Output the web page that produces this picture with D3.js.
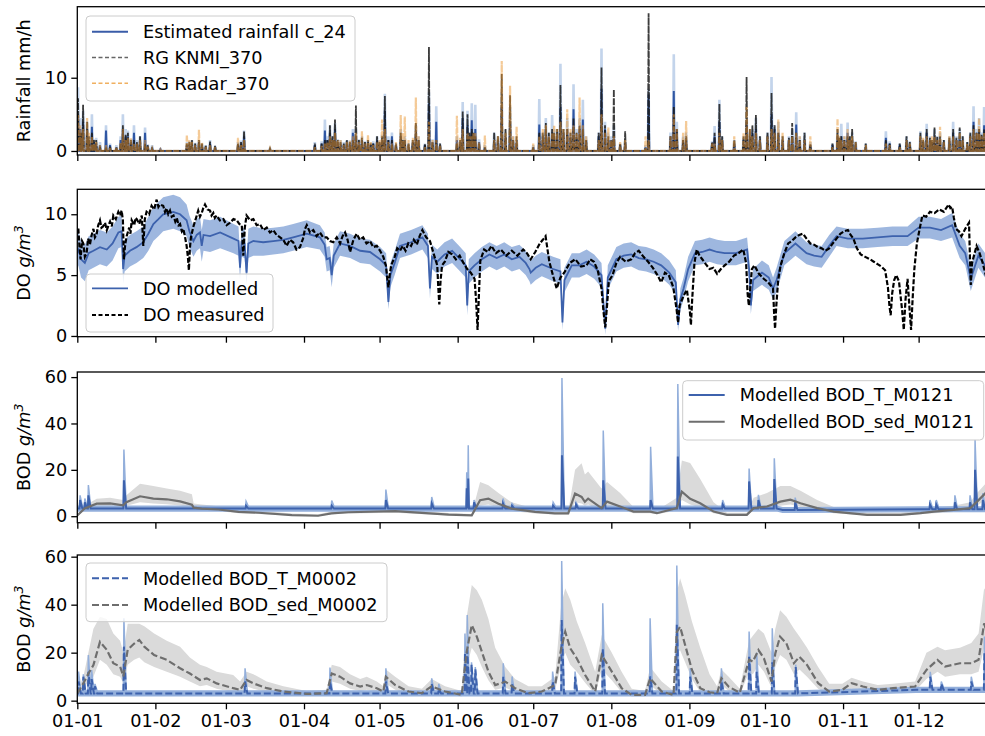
<!DOCTYPE html>
<html>
<head>
<meta charset="utf-8">
<script src="https://cdn.jsdelivr.net/npm/d3@7"></script>
<style>
body { margin: 0; background: #fff; }
text { font-family: "DejaVu Sans", sans-serif; font-size: 17.7px; fill: #000; }
</style>
</head>
<body>
<script>
// ---- data (day of year 2019, value) ----

// panel 1: rainfall events (main showers)
var rainDay   = [0.3,1.2,2.3,3.9,5.8,7.5,11.4,17.2,18.1,19.2,20.1,22.5,24.9,26.9,29.7,33,43.5,45.5,48.3,52.7,54.7,63.8,66.2,76.5,94.3,98.3,100.3,102.3,104.5,107,109.4,110.6,113,115.4,117.5,119,121,122.1,124.9,128.4,130,134.4,138,139.6,142.5,150.7,153,154.9,156.6,158,161.8,165.5,168.5,171.8,174.4,181,183.4,186,188.5,189.3,191.8,194.5,197,199.4,200.7,208.1,210.8,213,217.5,225.6,226.8,236.8,241.7,253,254.9,260.8,265.7,269.4,275.6,278.3,283.8,285.4,288.7,291,299.8,301.8,303.3,305.8,307.6,313,321,326.5,329.2,334.7,337.2,340.3,342.5,347.7,350.3,353.3,355.8,358,360,362.5];
var rainEst   = [5,3,4,3,3.3,1,2.8,1.5,3,2,2,2.5,1.5,2.5,0.5,0.2,0.8,1,1.2,1,0.5,0.8,2,0.2,0.8,2.8,2.5,3,1,1,2.5,2,1.5,1,1,1.5,1.5,5.5,2,2,1.5,2.5,0.8,6.5,4,1.5,4.5,3.5,4.2,3,0.5,1.5,6,4,1,0.5,3.6,3,2.5,2,6,3,5.7,3,4.3,8.5,1.5,2,1,0.5,7.7,8.2,1.5,2,4,1,4,3,5,2.5,2,3.6,1.5,0.8,0.8,2,2,2.5,1.5,0.5,1.8,0.8,1.5,1.8,2.5,2,1.5,2.5,2,0.8,4,3,3.5,2];
var rainEstHi = [8.7,4.5,5.5,4,5,1.8,3.5,2,5,3,2.8,3.5,2,3.2,0.8,0.4,1.2,1.5,1.5,1.5,0.7,1.2,2.8,0.4,1.2,4.3,3.5,3.8,1.5,1.5,3,3,2,1.5,1.3,2,2.2,7.8,2.5,3,2,3.5,1,8,6.1,2,6.7,5.5,6.5,6.3,0.8,2.5,8,6,1.5,0.8,7.1,4.5,4.9,3,11.9,4.5,9.1,4.5,7,14,2.5,3.5,1.5,0.8,8.5,13.2,2.5,3.4,7,1.5,5.5,4.5,10.1,4,3,5.3,2.5,1.2,1,3,3.7,3.9,2.5,1,2.7,1,2,2.7,3.7,3,2.5,4,3,1.2,6.1,4.5,6,3];
var rainKnmi  = [7.2,2.5,6.3,4,2.5,1.5,0.5,1,3.5,2.2,2.5,1.5,2,1,0.3,0,1,1.5,1.5,1.3,0.7,1,2.7,0.3,1,1.5,3.5,4.3,1.2,1.5,1.5,6.2,1.8,1.5,1,2,2,7.5,1.5,2.5,1.5,3.8,1,14.2,1.5,1,5.4,5,3,2,0.5,2.5,10.5,7.6,2,0.5,2.5,3.8,3,2.5,9,3,4.5,3.5,3,11.4,2,8.4,2.7,0.5,18.8,6,2,2.5,6.4,1.5,10.1,4.9,7.9,2.5,3.8,2.5,2.5,1,1,3,2,2,3,1,1.5,1,2,2.5,3,3.2,2,3,3.2,1.2,3.5,3,3,2.5];
var rainRadar = [5,3.5,3,4.5,2,1.2,0.8,1.2,3,1.5,1.8,1,1.5,1.5,0.3,0.2,2.2,1.2,2.9,0.8,0.5,1.8,1.5,0.3,0.5,1,2,2.5,1.5,1.2,2,2.5,2.7,2.2,0.8,1.2,4.3,3,1,4.9,4.7,7.3,0.5,4,1.5,4.8,3,2.5,2,2.5,2.1,1.5,12.3,8.9,3.3,1,2,3.5,2.5,3.5,4,5.7,3.5,7.3,3.5,5,3.2,2,1.5,2,1.5,5,4.1,1,2.5,2,6,2.5,3,4.3,2,2.5,1.5,2,0.5,4.4,1.5,3,2,0.8,1,0.5,1.5,2,2,2,3.3,2,2.5,1,3,4.5,2.5,2];

// panel 1: rainfall events (minor showers near the base)
var rainMinorDay   = [1.8,4.6,6.6,9,13,15.5,21.3,23.7,28,44.5,46.8,49.5,51,65,97,99.3,101.3,103.4,105.8,108.2,111.8,114.2,116.5,120,123.5,126.5,129.2,131.5,133.2,135.5,141,144,152,155.7,157.3,159.5,167,170,173,184.8,187.2,190.5,193,195.8,198.2,202,207,209.5,212,215.5,235.5,238,240.5,252,256,264.5,267,268,271,274,276.8,280,282.5,286.8,302.5,304.5,306.7,309,322.5,330.5,335.8,338.5,339.3,341.4,344,346.2,349,351.5,354.5,357,359,361.3,363.5];
var rainMinorEst   = [2,1.5,1.2,0.8,0.8,0.5,1.2,1,0.6,1,0.8,0.8,0.6,1,1,1.5,1.5,1.2,0.8,1,1.2,1,0.8,1,1.5,0.8,1.2,0.8,1.2,1.5,1.2,0.8,1.2,2,2,1.2,1.5,2,1.5,2,2,2.5,2.5,2,2,1.5,2,3,1.5,0.8,2,3,1.5,1,1.5,1.5,2,2.5,1.5,2,3,1.5,1.5,1.5,1.5,1.5,1.5,1,1,1,1.2,1.5,1.2,1.5,1.2,1.5,1.5,1.5,2,2.5,2,2.5,1.5];
var rainMinorEstHi = [3,2,1.6,1.2,1,0.8,1.6,1.5,0.9,1.3,1.1,1,0.8,1.4,1.3,2,2,1.6,1.2,1.4,1.6,1.3,1.1,1.3,2,1,1.6,1,1.5,2,1.6,1,1.5,2.5,3,1.6,2,2.5,2,2.5,2.5,3,3,2.5,3,2,2.5,4,2,1,2.5,4,2,1.3,2,2,2.5,3,2,2.5,3.5,2,2,2,2,2,2,1.3,1.3,1.3,1.6,2,1.5,2,1.5,2,2,2,2.5,3,2.5,3,2];
var rainMinorKnmi  = [2.5,2,1.5,0.6,0.6,0.5,1.5,1.2,0.8,1.2,1,1,0.7,1.2,1,1.5,2,1.5,1,1.2,1.5,1.2,1,1.2,1.5,1,1.5,1,1.5,1.5,1.2,1,1.5,2.5,2.5,1,2,3,1.5,2.5,2.5,3,3,2.5,2.5,1.5,2.5,3.5,1.5,1,2,3,1.5,1.2,2,2,3,3.5,2,2.5,3.5,2,1.8,1.5,1.8,1.5,2,1.2,1,1.2,1.5,1.8,1.5,2,1.5,1.8,1.8,2,2.5,2.5,2.2,3,2];
var rainMinorRadar = [1.5,2.5,1,0.8,0.4,0.5,1.8,1,0.6,1.5,0.8,1.2,0.6,0.8,0.7,1.2,1.5,1.5,0.8,1.4,1.2,1,1.2,1.5,1.2,1.2,2.5,1.5,1.8,2,1.5,0.8,1.8,2,2.5,1.2,2,2.5,2,3,2,3,3,3,2.5,2,1.5,2.5,1.5,1.2,2,3,2.5,1,1.5,2.5,3,2,1.5,2,2.5,2.5,1.5,2,2,2,1.5,1.2,0.8,1,1.8,1.5,2,1.5,1.2,2,1.5,1.5,2,2.5,2,2.5,1.5];

// panel 2: dissolved oxygen, measured [day, value]
var doMeasured = [[0,8.4],[0.4,8.9],[0.9,7.2],[1.3,6.3],[1.9,7.8],[2.4,7.6],[3,6.5],[3.7,6.8],[4.3,8],[5,7.5],[5.7,8.3],[6.4,8.8],[7,8.1],[7.6,8.3],[8.3,9.1],[9,9.5],[9.6,8.9],[10.2,9],[11,9.3],[11.7,8.7],[12.4,9.1],[13,9.4],[13.7,9],[14.3,9.9],[15.3,9.6],[16.3,10.2],[17,9.9],[17.6,10.3],[18.1,9.5],[18.5,6.3],[19,7.5],[19.6,8.2],[20.6,8.9],[21.1,8.4],[21.6,9.5],[22.6,9.1],[23.1,9.7],[23.6,9.6],[24.6,9.2],[25.6,9.9],[26.2,7.4],[26.8,9.6],[27.5,10.2],[28.5,10],[29.5,10.7],[30.5,10.4],[31.5,11.2],[32.2,10.6],[32.8,10.8],[34.1,10.7],[34.8,10.2],[35.4,10.5],[36.1,10],[36.8,10.3],[37.5,9.8],[38.2,9.9],[38.9,9.4],[39.5,9.7],[40.2,9.1],[40.8,9.2],[41.5,8.6],[42.1,8.8],[42.8,8.1],[43.4,7.4],[43.9,6.5],[44.3,5.4],[44.7,7.2],[45.1,8.1],[46.1,9],[47,9.6],[48,10.3],[48.7,9.8],[49.4,10.1],[50,10.5],[50.7,10.8],[51.7,10.4],[52.7,10.3],[53.3,9.9],[54,10.1],[54.6,9.7],[55.3,9.9],[56.6,9.5],[58,9.6],[59.3,9.1],[60.6,9.3],[62,9.6],[63.3,9.5],[64.3,9.2],[65.3,9.1],[65.9,6.6],[66.5,8.9],[67.2,9.9],[68.6,9.5],[69.9,9.6],[71.2,9.1],[72.5,9.2],[73.8,8.7],[75.2,8.9],[76.5,8.5],[77.8,8.7],[79.1,8.3],[80.5,8.1],[81.8,7.9],[83.1,7.4],[84.4,7.9],[85.7,7.7],[87,7.1],[88.4,7.3],[89.6,8],[90.4,8.8],[91.1,9.1],[92.4,8.5],[93.7,8.7],[95,8.2],[96.3,8.5],[97.6,8.1],[99,8.1],[100.3,7.8],[101.6,7.7],[103,8.1],[104.3,7.6],[105.3,8.2],[106.3,8.5],[107.3,7.9],[108.3,6.9],[109.6,7.9],[110.9,8.4],[112.2,7.9],[113.5,8.1],[114.8,7.6],[116.2,7.8],[117.5,7.3],[118.9,7.4],[120.2,7],[121.5,6.5],[122.5,5.8],[123.5,4],[124,5],[124.6,5.8],[126,6.5],[127,7.2],[128.1,7],[129.2,7.4],[130.3,7],[131.4,7.6],[132.5,7.4],[133.6,7.9],[134.8,7.5],[135.9,8.2],[137,8.7],[138.5,8.1],[140,7.8],[141.4,6.8],[142.9,5.8],[143.3,4],[143.7,2.6],[144.2,4.5],[144.8,5.8],[145.9,6.1],[147.3,6.9],[148.8,6.7],[150.3,6.3],[151.8,6.6],[153.3,6],[154.8,5.5],[156.2,5.2],[157.7,4.7],[158.3,3],[158.9,0.5],[159.4,3.2],[160,6.2],[161.5,7.1],[163,6.9],[164.4,7.4],[166.2,6.8],[168.1,7.1],[170.3,6.6],[172.5,7],[174.7,6.6],[177,7.1],[178.5,6.8],[180,6.3],[181.8,6.9],[183.6,7.6],[184.8,7.9],[185.9,8.2],[186.6,7.2],[187.4,6.1],[188.8,5],[190.3,3.9],[191.8,4.8],[193.3,5.2],[195.5,6],[197.7,6.3],[200,5.7],[202.2,5.8],[203.6,6.3],[205.1,6.1],[206.6,5.4],[208.1,3.9],[208.9,2],[209.6,0.7],[210.3,2.5],[211,4.5],[212.5,5],[214,6],[215.5,6.5],[217.7,6.1],[219.9,6.3],[221.4,6.8],[222.9,7],[224.8,6.5],[226.6,6.1],[228.5,5.6],[230.3,5],[231.8,4.4],[233.3,5.2],[234.8,5],[236.6,4],[237.9,2.2],[238.5,1.1],[239.1,2.5],[240.7,3.3],[242,3.8],[243.2,2],[243.6,0.9],[244.1,3],[245,6],[245.9,7.1],[247,6.6],[248.1,6.3],[249.5,5.9],[251,5.5],[252.5,5.6],[254,5.1],[255.5,5.5],[257,5.8],[258.8,6.1],[260.7,6.6],[262.5,6.8],[264.4,7.1],[265.5,6],[266.1,3.5],[266.6,2.5],[267.2,4],[267.8,5.5],[268.8,5.8],[270.6,5.1],[272.5,4.7],[274.3,4.4],[276.2,3.9],[276.6,2],[277,0.6],[277.5,2.5],[278.2,4.5],[279.2,5.8],[280.7,6.8],[282.2,7.6],[283.6,7.8],[285.1,8.1],[286.6,8.3],[288.1,8.4],[289.5,8],[291,7.6],[292.5,7.5],[294,7.3],[295.5,7.2],[297,7],[298.5,7.2],[299.9,7.6],[301.4,8],[302.9,8.4],[304.4,8.6],[305.9,8.7],[307,8.3],[308.1,8],[309.5,7.2],[311,6.7],[312.8,6.5],[314.7,6.3],[316.2,6.1],[317.7,5.9],[319.2,5.7],[320.7,5.4],[321.8,4],[322.4,2.5],[322.9,1.7],[323.5,3.5],[324.3,4.6],[325.1,5],[326.2,4.5],[327.5,2],[328.1,0.5],[328.8,3],[329.6,4.7],[330.3,2.5],[331,0.5],[331.6,3],[332.3,5.5],[333.3,7.6],[334.4,8.8],[335.5,9.9],[337,9.8],[338.5,10.2],[340.3,10.1],[342.2,10.4],[344,10.2],[345.9,10.8],[346.6,10.5],[347.3,10.6],[348,9.7],[348.8,8.8],[350,8.6],[351,8.2],[352.5,8.8],[354,9.3],[354.3,7],[354.7,4.2],[355.2,6],[357,7.4],[358.2,6.8],[359.3,6.1],[360.4,5.2],[361.4,4.4],[362.6,5.5],[364,6]];
// modelled [day, value, band half width]
var doModelled = [[0,6.8,1.4],[0.4,7.2,1.4],[1.5,6.3,1.5],[3,6,1.5],[4.5,6.8,1.4],[6.4,7,1.4],[9,7.3,1.4],[11.7,7.1,1.4],[14,7.6,1.4],[16.3,8.5,1.3],[17.6,8.6,1.3],[18.2,5.5,1.2],[18.8,6.6,1.3],[20.9,7,1.3],[23.5,7.3,1.3],[26.2,7.7,1.3],[28.2,8.4,1.4],[30.2,9.2,1.4],[32.2,9.6,1.4],[34.1,10,1.4],[36.1,10.1,1.4],[38.1,10.2,1.4],[40.8,10,1.4],[43.4,9.5,1.3],[44.5,8.6,1.3],[46.1,7.8,1.3],[47.4,8.3,1.3],[48.7,8.5,1.3],[49.4,7.4,1.3],[50.1,8.3,1.3],[52.7,8.2,1.3],[56.7,8.5,1.3],[62,8,1.2],[64,7.8,1.2],[64.6,5.6,1],[65.2,7.7,1.2],[66.4,7.6,1.2],[67.2,5.2,1],[67.9,7.6,1.2],[69.9,7.8,1.2],[73.8,7.7,1.1],[77.8,7.8,1.1],[81.8,7.9,1.1],[85.7,8.1,1.1],[91.1,8.4,1.1],[96.3,8.1,1],[98.2,7.5,1],[99,6.3,1],[100.2,6.4,1],[101,5,1],[101.8,6.6,1],[104.3,7.6,1],[108.3,7.4,1],[112.3,7,1],[116.2,6.9,1],[120.2,6.3,1],[122.6,5.8,1],[123.5,2.8,0.6],[124.3,5,1],[126,6,1],[128.1,7.4,1],[132.5,7.7,1],[137,8.1,1],[139.2,7.4,1],[140,3.9,0.8],[140.8,6.5,1],[142.9,6.1,1],[145.8,6.7,1],[148.8,7,1],[152,6.3,1],[154.2,5.8,1],[154.8,2.5,0.8],[155.4,5.3,1],[157.7,5.8,1],[160.6,6.3,1],[163.6,6.7,1],[166.5,6.4,1],[169.5,6.7,1],[172.5,6.3,1],[175.5,6.5,1],[178,6,1],[179.5,5.5,1],[180,5.2,1],[182,5.6,1],[184.4,5.9,1],[188.9,5.5,1],[191.8,5.3,1],[192.6,1.1,0.6],[193.4,4.6,1],[196.3,5.8,1],[199.3,5.8,1],[202.2,6.1,1],[205.2,5.7,1],[208.1,5,1],[209.6,0.6,0.5],[210.6,4.8,1],[214,6.3,1],[216.9,6.6,1],[219.9,6.7,1],[222.9,6.4,1],[225.8,6.3,1],[228.8,6.1,1],[231.8,5.8,1],[235,5.2,1],[237.6,4.4,1],[238.5,0.9,0.5],[239.4,3,0.9],[240.7,3.9,0.9],[242.5,5.5,1],[245.2,6.8,1],[248.1,6.9,1],[251,7.1,1],[254,6.9,1],[257,6.8,1],[261.5,6.8,1],[265.9,7.1,1],[266.7,5.5,0.9],[267.4,2.5,0.7],[268.3,4.6,0.9],[271.8,5.2,1],[274.5,4.8,1],[276.2,3.9,0.9],[277.6,4.6,1],[280.7,6.8,1],[285.1,7.6,1],[289.5,6.8,0.9],[292.5,6.6,0.9],[295.5,6.5,0.9],[298.5,7.4,0.9],[301.4,8.2,0.8],[305.9,8,0.8],[311.8,8,0.8],[317.7,8.1,0.8],[323.6,8.2,0.8],[329.6,8.2,0.8],[334,8.9,0.9],[338.5,8.9,0.9],[342.9,8.7,0.9],[347.3,9.1,1],[350.3,7.4,1],[352.5,6.8,1],[354.7,4.7,1],[357.7,6.6,1],[361.4,5.5,1],[364,6,1]];

// panel 3: BOD M0121
var bodTBase1 = [[0,3.3],[280,2.7],[335,3]];
var bodTDay1  = [1.1,3,4.4,18.5,67,101,122.5,140.7,154.6,155.2,157.5,169,172.6,188.9,192.4,198,208.8,227.6,238.4,256.2,266.7,270.4,276.7,285,338.5,341,348.4,354.4,356.4,359.5];
var bodTPeak1 = [7,6,9,15.5,4.5,4.5,7,5.5,12,16.3,6,5.5,4.5,4.5,26.3,5,15.5,7,25.7,5,15,7,16,6,5,5,6,6,20,7];
var bodTHi1   = [9,7.6,13.4,28.8,6.4,6.8,11.5,8.3,19,30.6,7,7.6,5.5,6,59.6,6,37,30,57,7,20.6,9.2,25,8,7,7,9,9,33,10];
// [day, value, band high, band low]
var bodSed1 = [[0,0.3,0.5,0],[2.9,3.3,4.5,2.5],[7.7,5.4,7.5,4.2],[13,5.5,8,4.3],[18.2,4.7,7,3.8],[19.5,6,9,4.5],[24.9,8.6,14,6],[30.2,7.6,13,5.5],[35.5,7.3,12,5.2],[40.8,6.4,11,4.6],[45.5,5,9.5,3.8],[46.2,3.7,5.5,3],[49.4,3.3,5,2.6],[56,2.9,4.3,2.2],[64,1.9,3,1.3],[72,1.5,2.4,1],[85.2,0.5,1.2,0.2],[95.6,0.2,0.8,0],[100.9,1.2,2,0.8],[107.5,1.7,2.5,1.2],[126.2,2.2,3,1.5],[147.4,0.7,1.4,0.3],[156.6,0.4,1,0.2],[159.9,6.9,14.8,4.5],[163.2,7.6,13.4,5],[167.2,5.4,10,3.8],[172.4,3.3,6,2.3],[181.7,1.9,3.2,1.2],[189.6,1.2,2,0.7],[194.9,1.2,2,0.7],[197.6,9.8,20,6],[200.2,8.3,22.8,5.5],[201.5,6.2,18,4.5],[202.8,7.6,19.3,5],[208.1,3.5,12,2.5],[210.3,6.3,14.8,4],[215.5,4.2,10,3],[220.8,2,4,1.3],[227.4,2,3.5,1.3],[230.1,1.3,2.5,0.8],[238,3.5,8,2.5],[240,10.6,24,7],[243.3,7.5,23,5],[247.3,5.6,16,3.8],[252.6,2,6,1.3],[257.9,0.6,1.5,0.3],[265.8,0.6,1.5,0.3],[268.5,3.5,8,2.5],[273.8,4.2,10,3],[279.1,6.3,13,4.5],[283.1,7.1,13,5],[287.1,5.6,11,4],[293.7,3.5,7,2.5],[300.3,2,4,1.3],[313.5,0.6,1.5,0.3],[326.8,0.6,1.5,0.3],[334.7,1.3,2.5,0.8],[340,2,3.5,1.3],[347.9,2.7,4.5,1.8],[354.5,3.5,6,2.5],[357.2,6.3,10,4.5],[360.5,9.9,14,7],[364,9.5,14,7]];

// panel 4: BOD M0002
var bodTBase2 = [[0,3],[333,4.5]];
var bodTDay2  = [0.5,2.4,4.4,5.7,7,18.5,66.6,100.3,122.5,140.7,143.5,153.9,154.8,156.5,158,169.1,172.6,188.7,192.3,197.6,208.6,227.4,238,243.3,255.7,266.7,269.7,275.9,285.2,338.6,343,354.9,360.1,361.6];
var bodTPeak2 = [8,10,12,9,6,22.5,8,8,8,7,5,20,21.1,15,13,10,7,8,33.6,10,21.8,10.1,31.6,10,8,18.3,12,16,14,10,7,8,19.7,12];
var bodTHi2   = [12.1,11,19,12.7,7,34.3,13.5,13.8,13.5,9.3,7,28,35.7,16,14,15.6,10.1,12.1,58.2,12.1,40.6,34.3,56.3,13.5,13.5,28.8,20,30.2,15,12,8,10,26.7,14];
var bodSed2 = [[0,3,4,2],[2.4,7.2,10,5],[4.4,11.3,20,8],[6.4,14.8,30,10],[9,24.5,35,17],[11.7,21.2,34,15],[14.3,15.6,28,11],[17,14.2,25,10],[18.3,10.1,20,7],[20,21.2,32,15],[22.6,23.8,32,17],[24.6,25.3,32,18],[26.6,22.5,31,16],[30.5,19,28,14],[35.5,17,25,12],[40.8,13.5,22.5,10],[44.7,11.3,18,8],[48.7,8.6,15,6],[51.4,9.3,14,6.5],[55.3,7.2,12,5],[61.9,5.2,10.7,3.5],[64.6,4.5,8,3],[67.2,8.6,12,6],[69.9,7.2,11,5],[75.2,5.2,8,3.5],[81.8,3.8,6,2.5],[91.1,2.8,4,2],[99,3.1,4.5,2.2],[101,11.3,15,8],[104.3,10,14,7],[108.3,7.2,11,5],[112.3,5.9,9,4],[114.9,6.5,10,4.5],[118.9,5.2,8,3.5],[121.5,3.8,6,2.6],[122.5,10,13,7],[126.2,6.5,10,4.5],[131.5,3.8,6,2.6],[136.8,3.1,5,2.2],[140.7,6,9,4],[146,3.8,6,2.6],[152.6,2.4,4,1.7],[154.6,20.4,35,14],[156.6,31.5,48.2,22],[158.6,26.7,46,19],[160.6,20.4,42,14],[163.2,12.1,34,8.5],[165.9,6.5,22,4.5],[169.9,7.9,14,5.5],[173.8,5.2,9,3.5],[179.1,3.1,6,2.2],[184.4,3.8,6,2.6],[189.7,6.5,10,4.5],[192.1,21.8,40,15],[193.7,28.7,46.8,20],[195.7,21.8,42,15],[198.3,17.6,33,12],[201.6,10.7,24,7.5],[205.6,3.8,12,2.6],[208.2,19,27.4,13],[212.2,12.1,20,8.5],[216.1,5.2,12,3.5],[220.1,2.4,5,1.7],[225.4,2.4,4,1.7],[227.4,9.3,14,6.5],[232,3.8,8,2.6],[236.7,2.4,4,1.7],[238,28.7,45,20],[239.3,30.8,51,21],[241.3,23.2,44,16],[244,12.8,33,9],[247.3,5.2,22,3.5],[251,3.5,11,2.5],[254,3.1,6,2.2],[255.7,9.3,13,6.5],[258.6,5.8,10,4],[263,3.3,5,2.3],[266.7,17,25,12],[268.2,16.3,27,11],[270.4,21.1,30,15],[272.6,17.6,28,12],[275.6,7.9,20,5.5],[277.1,19.7,30,14],[279,26.7,37.7,19],[281.5,23.9,35,17],[284.5,15.6,30,11],[286.7,18.3,26.7,13],[289.7,14.9,22,10],[294.1,7.3,14,5],[298.5,3.8,7,2.6],[303.7,4.5,7,3.2],[307.4,7.3,9.5,5],[311.9,5.9,8,4],[317.8,4.5,6.5,3.2],[323.8,5.2,7,3.6],[332.6,5.9,8,4],[337.1,12.8,20,9],[341.5,17,22.5,12],[344.5,14.2,21,10],[350.4,15.6,22,11],[354.9,15.6,24,11],[357.8,17,28,12],[360,32.2,46.8,22],[361.6,26.7,44,19],[364,22,40,16]];

// ---- layout ----
var width = 985, height = 736;
var t0 = Date.UTC(2019, 0, 1);
function day(d) { return new Date(t0 + d * 864e5); }

var x = d3.scaleUtc().domain([day(0), day(364)]).range([77.3, 994.2]);

var panels = [
  {top: 6.7,   bottom: 155,   domain: [-0.55, 19.7], ticks: [0, 10]},
  {top: 189.3, bottom: 336.7, domain: [-0.06, 12.05], ticks: [0, 5, 10]},
  {top: 372,   bottom: 522.7, domain: [-2.8, 62.2], ticks: [0, 20, 40, 60]},
  {top: 555,   bottom: 703.3, domain: [-1.1, 60.7], ticks: [0, 20, 40, 60]}
];
panels.forEach(function(p) {
  p.y = d3.scaleLinear().domain(p.domain).range([p.bottom, p.top]);
});

var svg = d3.select("body").append("svg")
  .attr("width", width).attr("height", height);

var blue = "#3d62ad", blueBand = "#93afdb", grey = "#6e6e6e", greyBand = "#dadada";

// step baseline lookup and spike builder
function baseAt(base, d) {
  var v = base[0][1];
  base.forEach(function(b) { if (b[0] <= d) v = b[1]; });
  return v;
}
function spikes(base, days, vals, wl, wr) {
  var pts = base.map(function(b) { return [b[0], b[1]]; });
  pts.push([364.5, base[base.length - 1][1]]);
  days.forEach(function(d, i) {
    var b = baseAt(base, d);
    pts.push([d - wl, b], [d, vals[i]], [d + wr, b]);
  });
  return pts.sort(function(a, b) { return a[0] - b[0]; });
}

function lineFor(y) {
  return d3.line().x(function(p) { return x(day(p[0])); }).y(function(p) { return y(p[1]); });
}

// panel groups with clipping
panels.forEach(function(p, k) {
  svg.append("clipPath").attr("id", "clip" + k)
    .append("rect").attr("x", 77.3).attr("y", p.top)
    .attr("width", 994.2 - 77.3).attr("height", p.bottom - p.top);
  p.g = svg.append("g").attr("clip-path", "url(#clip" + k + ")");
});

// ---- panel 1: rainfall ----
(function() {
  var p = panels[0], y = p.y, zero = [[0, 0]];
  var ln = lineFor(y);
  var days = rainDay.concat(rainMinorDay);
  var est = rainEst.concat(rainMinorEst), hi = rainEstHi.concat(rainMinorEstHi);
  var knmi = rainKnmi.concat(rainMinorKnmi), radar = rainRadar.concat(rainMinorRadar);
  p.g.append("path").attr("d", ln(spikes(zero, days, hi, 0.3, 0.3)))
    .attr("fill", "none").attr("stroke", "#c3d4eb").attr("stroke-width", 2.6);
  p.g.append("path").attr("d", ln(spikes(zero, days, est, 0.25, 0.25)))
    .attr("fill", "none").attr("stroke", "#2f56a3").attr("stroke-width", 2);
  p.g.append("path").attr("d", ln(spikes(zero, days, knmi, 0.25, 0.25)))
    .attr("fill", "none").attr("stroke", "#1a1a1a").attr("stroke-opacity", 0.85)
    .attr("stroke-width", 1.8).attr("stroke-dasharray", "7,1.2");
  p.g.append("path").attr("d", ln(spikes(zero, days, radar, 0.25, 0.25)))
    .attr("fill", "none").attr("stroke", "#e9962f").attr("stroke-opacity", 0.5)
    .attr("stroke-width", 2.2).attr("stroke-dasharray", "6,1.5");
})();

// ---- panel 2: DO ----
(function() {
  var p = panels[1], y = p.y;
  var area = d3.area().x(function(q) { return x(day(q[0])); })
    .y0(function(q) { return y(q[1] - q[2]); })
    .y1(function(q) { return y(q[1] + q[2]); });
  p.g.append("path").attr("d", area(doModelled)).attr("fill", blueBand).attr("opacity", 0.9);
  p.g.append("path").attr("d", lineFor(y)(doModelled))
    .attr("fill", "none").attr("stroke", blue).attr("stroke-width", 1.8);
  p.g.append("path").attr("d", lineFor(y)(doMeasured))
    .attr("fill", "none").attr("stroke", "#000").attr("stroke-width", 2.2)
    .attr("stroke-dasharray", "5,2");
})();

// ---- panels 3 and 4: BOD ----
function bodPanel(p, base, days, peaks, his, sed, dashed) {
  var y = p.y;
  var sedArea = d3.area().x(function(q) { return x(day(q[0])); })
    .y0(function(q) { return y(q[3]); })
    .y1(function(q) { return y(q[2]); });
  p.g.append("path").attr("d", sedArea(sed)).attr("fill", greyBand);

  var hiBase = base.map(function(b) { return [b[0], b[1] + 1]; });
  var hiPts = spikes(hiBase, days, his, 0.2, 0.9);
  var band = d3.area().x(function(q) { return x(day(q[0])); })
    .y0(function(q) { return y(baseAt(base, q[0]) - 1); })
    .y1(function(q) { return y(q[1]); });
  p.g.append("path").attr("d", band(hiPts)).attr("fill", blueBand)
    .attr("stroke", blueBand).attr("stroke-width", 1.5);

  p.g.append("path").attr("d", lineFor(y)(spikes(base, days, peaks, 0.2, 0.9)))
    .attr("fill", "none").attr("stroke", blue).attr("stroke-width", 2)
    .attr("stroke-dasharray", dashed ? "7,3" : null);
  p.g.append("path").attr("d", lineFor(y)(sed))
    .attr("fill", "none").attr("stroke", grey).attr("stroke-width", 2.2)
    .attr("stroke-dasharray", dashed ? "7,3" : null);
}
bodPanel(panels[2], bodTBase1, bodTDay1, bodTPeak1, bodTHi1, bodSed1, false);
bodPanel(panels[3], bodTBase2, bodTDay2, bodTPeak2, bodTHi2, bodSed2, true);

// ---- axes ----
var fmt = d3.utcFormat("%d-%m");
panels.forEach(function(p, k) {
  var ya = svg.append("g").attr("transform", "translate(77.3,0)")
    .call(d3.axisLeft(p.y).tickValues(p.ticks).tickSize(6).tickPadding(4));
  var xa = svg.append("g").attr("transform", "translate(0," + p.bottom + ")")
    .call(d3.axisBottom(x).ticks(d3.utcMonth.every(1)).tickSize(6).tickPadding(5)
      .tickFormat(k === 3 ? fmt : function() { return ""; }));
  [ya, xa].forEach(function(a) {
    a.select(".domain").remove();
    a.selectAll(".tick line").attr("stroke", "#000").attr("stroke-width", 1.3);
    a.attr("font-family", null).attr("font-size", null);
  });
  svg.append("rect").attr("x", 77.3).attr("y", p.top)
    .attr("width", 994.2 - 77.3).attr("height", p.bottom - p.top)
    .attr("fill", "none").attr("stroke", "#000").attr("stroke-width", 1.3);
});

// ---- y labels ----
function yLabel(p, parts) {
  var cy = (p.top + p.bottom) / 2;
  var t = svg.append("text").attr("text-anchor", "middle")
    .attr("transform", "translate(30," + cy + ") rotate(-90)");
  parts.forEach(function(s) {
    var ts = t.append("tspan").text(s.t);
    if (s.it) ts.attr("font-style", "italic");
    if (s.sup) ts.attr("baseline-shift", "super").attr("font-size", "12.5px");
  });
}
yLabel(panels[0], [{t: "Rainfall mm/h"}]);
yLabel(panels[1], [{t: "DO "}, {t: "g/m", it: true}, {t: "3", it: true, sup: true}]);
yLabel(panels[2], [{t: "BOD "}, {t: "g/m", it: true}, {t: "3", it: true, sup: true}]);
yLabel(panels[3], [{t: "BOD "}, {t: "g/m", it: true}, {t: "3", it: true, sup: true}]);

// ---- legends ----
function legend(bx, by, bw, bh, rows) {
  var g = svg.append("g");
  g.append("rect").attr("x", bx).attr("y", by).attr("width", bw).attr("height", bh)
    .attr("rx", 4).attr("fill", "#fff").attr("fill-opacity", 0.8)
    .attr("stroke", "#cccccc").attr("stroke-width", 1);
  rows.forEach(function(r) {
    g.append("line").attr("x1", bx + 6).attr("x2", bx + 42).attr("y1", r.y).attr("y2", r.y)
      .attr("stroke", r.color).attr("stroke-width", r.w || 2)
      .attr("stroke-dasharray", r.dash || null);
    g.append("text").attr("x", bx + 57).attr("y", r.y + 6.3).text(r.label);
  });
}
legend(86, 16, 269, 85, [
  {y: 31.7, color: "#3a5ca8", label: "Estimated rainfall c_24"},
  {y: 57.5, color: "#666", w: 1.6, dash: "4,2.5", label: "RG KNMI_370"},
  {y: 83.3, color: "#f0b060", w: 1.6, dash: "4,2.5", label: "RG Radar_370"}
]);
legend(86, 274, 187, 58, [
  {y: 288.3, color: blue, w: 1.8, label: "DO modelled"},
  {y: 315, color: "#000", w: 2, dash: "4,2.5", label: "DO measured"}
]);
legend(682.7, 380.7, 301, 59.3, [
  {y: 395, color: blue, label: "Modelled BOD_T_M0121"},
  {y: 421.7, color: grey, label: "Modelled BOD_sed_M0121"}
]);
legend(86, 563, 301, 58.7, [
  {y: 578.3, color: blue, dash: "7,3", label: "Modelled BOD_T_M0002"},
  {y: 605, color: grey, dash: "7,3", label: "Modelled BOD_sed_M0002"}
]);
</script>
</body>
</html>
